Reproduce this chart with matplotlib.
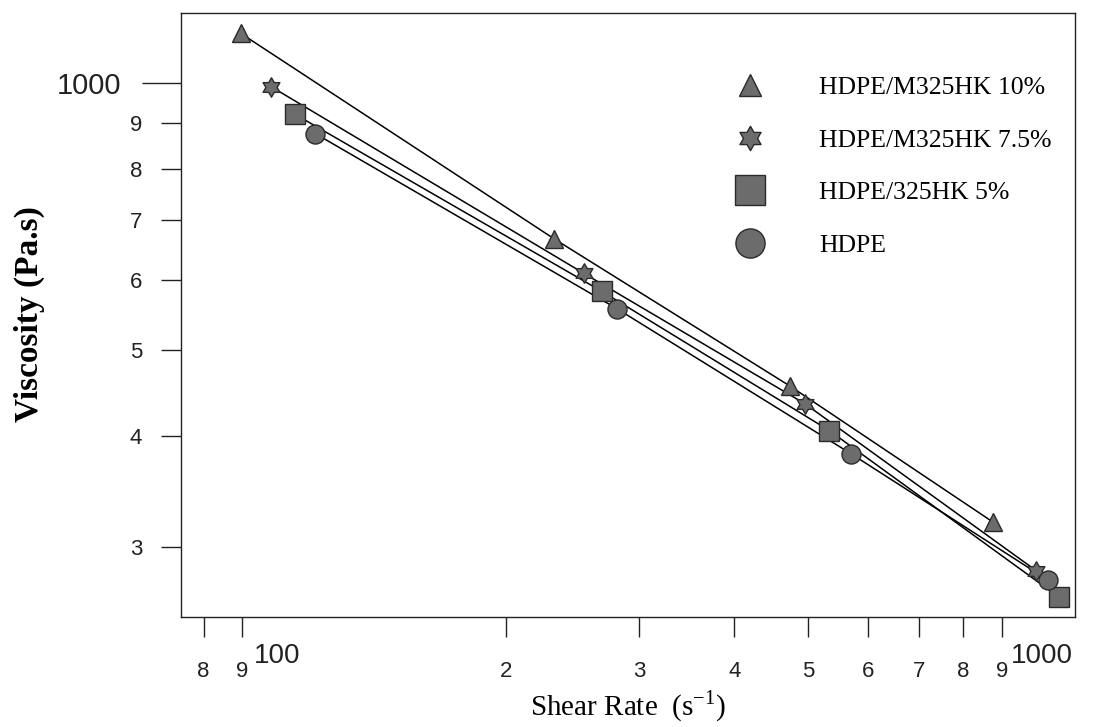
import matplotlib
matplotlib.use("Agg")
import matplotlib.pyplot as plt
import matplotlib.transforms as mtransforms
from matplotlib.lines import Line2D
from matplotlib.path import Path
from matplotlib.ticker import FixedLocator, FuncFormatter
import numpy as np

# shear rate (1/s) and viscosity (Pa.s)
shear_10 = [89.6, 231.5, 473.8, 877.5]
visc_10 = [1136, 667, 455, 319.6]

shear_75 = [98.1, 253.2, 495.8, 998.8]
visc_75 = [990, 610, 434.6, 282]

shear_5 = [105.6, 267.6, 533.6, 1072]
visc_5 = [921, 582, 405.5, 263]

shear_0 = [112.3, 280.5, 570, 1036]
visc_0 = [876, 556, 381.8, 275]

labels = ["HDPE/M325HK 10%", "HDPE/M325HK 7.5%", "HDPE/325HK 5%", "HDPE"]

x_major = [100, 1000]
x_minor = [80, 90, 200, 300, 400, 500, 600, 700, 800, 900]
y_major = [1000]
y_minor = [300, 400, 500, 600, 700, 800, 900]

fill = "#6c6c6c"
edge = "#2a2a2a"

# six-pointed star (two overlapping triangles)
ang = np.deg2rad(90 + 30 * np.arange(12))
rad = np.where(np.arange(12) % 2 == 0, 1.0, 1 / np.sqrt(3))
star_verts = np.column_stack([rad * np.cos(ang), rad * np.sin(ang)])
star6 = Path(np.vstack([star_verts, star_verts[:1]]), closed=True)

fig = plt.figure(figsize=(11.16, 7.27), dpi=100)
ax = fig.add_axes([181 / 1116, 110 / 727, 894 / 1116, 604 / 727])

series = [
    (shear_10, visc_10, "^", 12.5, 16),
    (shear_75, visc_75, star6, 14, 17.5),
    (shear_5, visc_5, "s", 14, 21.5),
    (shear_0, visc_0, "o", 13.7, 21),
]

handles = []
for (xs, ys, mk, ms, lms), lab in zip(series, labels):
    ax.plot(xs, ys, "-", color="black", lw=1.1, zorder=2)
    ax.plot(xs, ys, ls="none", marker=mk, ms=ms, mfc=fill, mec=edge,
            mew=1.0, zorder=3)
    handles.append(Line2D([0], [0], ls="none", marker=mk, ms=lms, mfc=fill,
                          mec=edge, mew=1.0, label=lab))

ax.set_xscale("log")
ax.set_yscale("log")
ax.set_xlim(74.7, 1124)
ax.set_ylim(250, 1198)

sans = "Liberation Sans"
serif = "Liberation Serif"


def lead_digit(v, pos):
    return str(int(round(v / 10 ** np.floor(np.log10(v)))))


ax.xaxis.set_major_locator(FixedLocator(x_major))
ax.xaxis.set_minor_locator(FixedLocator(x_minor))
ax.xaxis.set_major_formatter(FuncFormatter(lambda v, p: "%d" % v))
ax.xaxis.set_minor_formatter(FuncFormatter(lead_digit))
ax.yaxis.set_major_locator(FixedLocator(y_major))
ax.yaxis.set_minor_locator(FixedLocator(y_minor))
ax.yaxis.set_major_formatter(FuncFormatter(lambda v, p: "%d" % v))
ax.yaxis.set_minor_formatter(FuncFormatter(lead_digit))

ax.tick_params(axis="x", which="major", length=0, pad=18.5,
               labelsize=20, colors="#222222")
ax.tick_params(axis="x", which="minor", length=14.5, width=1, pad=17,
               labelsize=16, colors="#222222")
ax.tick_params(axis="y", which="major", length=28, width=1, pad=15,
               labelsize=21, colors="#222222")
ax.tick_params(axis="y", which="minor", length=14.5, width=1, pad=13.5,
               labelsize=16, colors="#222222")
for lbl in ax.get_xticklabels(which="both") + ax.get_yticklabels(which="both"):
    lbl.set_family(sans)

# nudge the "1000" label on x a little right so it clears the "9"
lab1000 = ax.xaxis.get_major_ticks()[1].label1
lab1000.set_transform(lab1000.get_transform() +
                      mtransforms.ScaledTranslation(5 / 100, 0, fig.dpi_scale_trans))

for sp in ax.spines.values():
    sp.set_linewidth(1.0)
    sp.set_color("#222222")

ax.set_xlabel("Shear Rate  (s$^{\\mathregular{-1}}$)", fontsize=21,
              family=serif)
ax.xaxis.set_label_coords(0.5, -0.118)
ax.set_ylabel("Viscosity (Pa.s)", fontsize=24, family=serif,
              fontweight="bold")
ax.yaxis.set_label_coords(-0.152, 0.501)

leg = ax.legend(handles=handles, loc="upper left",
                bbox_to_anchor=(0.623, 0.895), frameon=False,
                prop={"family": serif, "size": 18.5}, handlelength=0.95,
                handletextpad=2.2, labelspacing=1.15, borderpad=0,
                borderaxespad=0)

fig.savefig("out.png", dpi=100)
